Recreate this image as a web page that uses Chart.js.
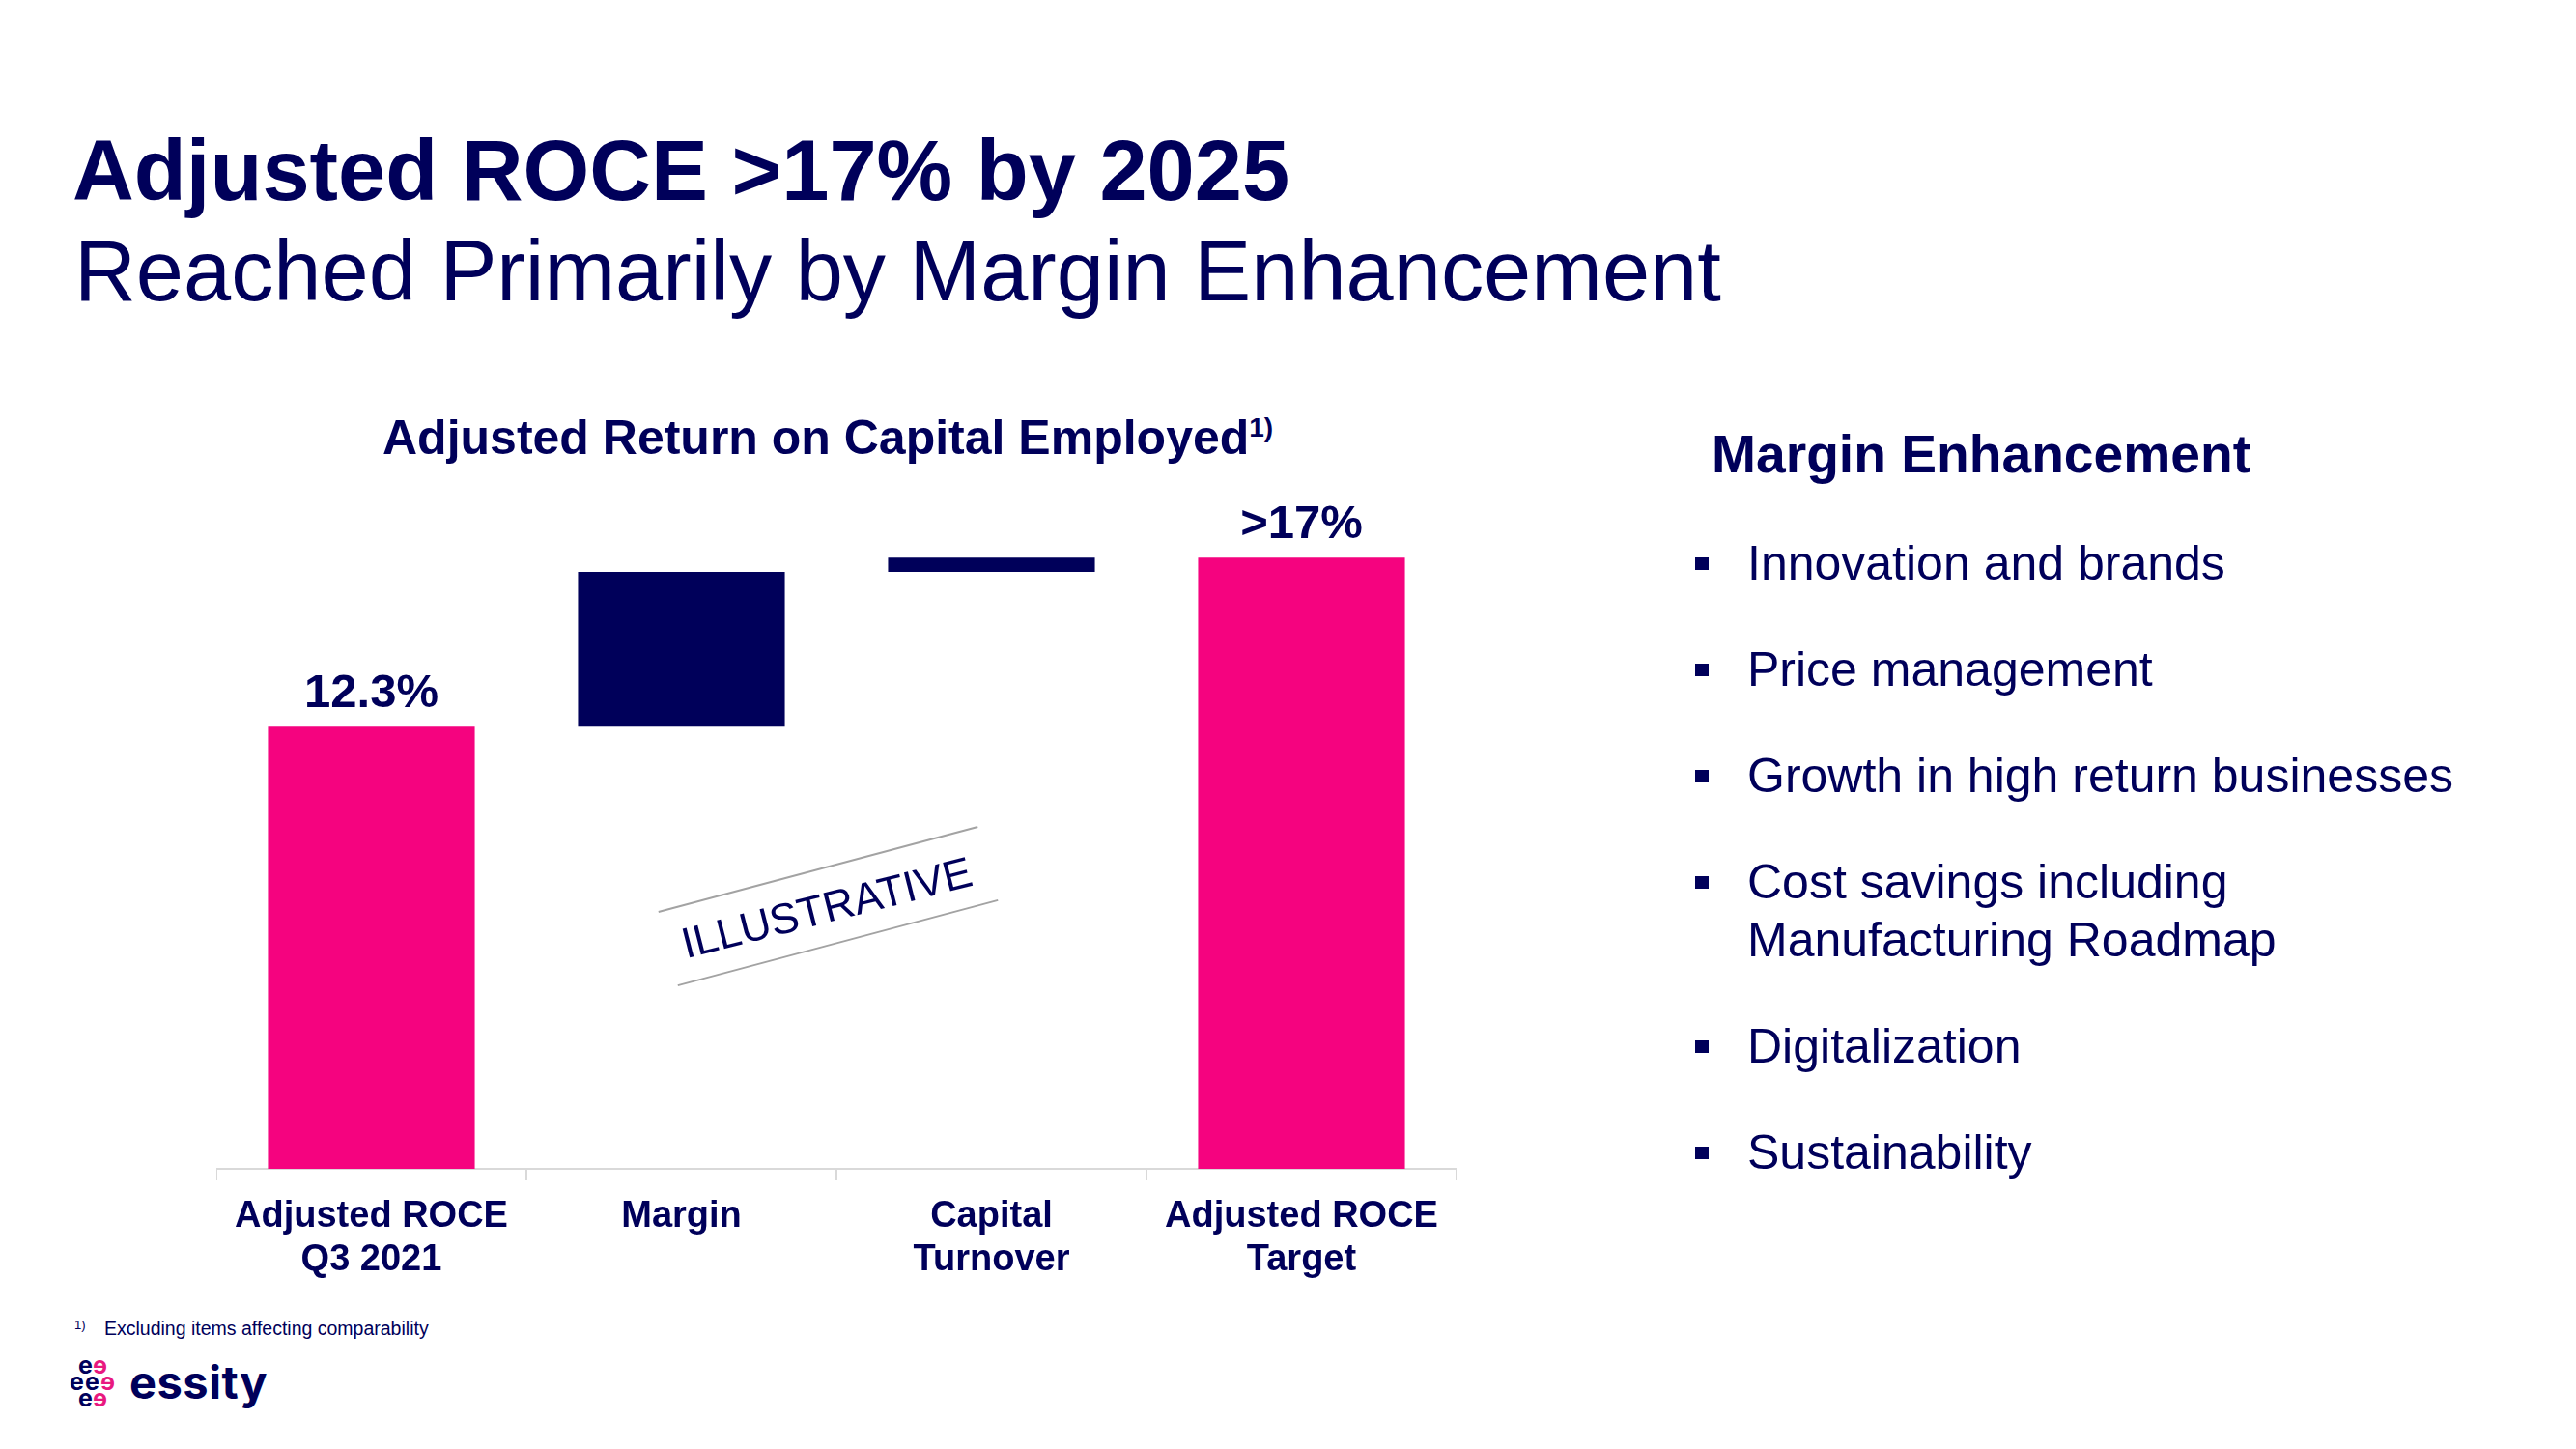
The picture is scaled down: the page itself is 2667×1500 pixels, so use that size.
<!DOCTYPE html>
<html>
<head>
<meta charset="utf-8">
<script src="https://cdn.jsdelivr.net/npm/chart.js@4.4.1/dist/chart.umd.min.js"></script>
<style>
  html, body { margin: 0; padding: 0; background: #ffffff; }
  body { width: 2667px; height: 1500px; position: relative; overflow: hidden;
         font-family: "Liberation Sans", Arial, Helvetica, sans-serif; color: #00005a; }
  .t { position: absolute; white-space: nowrap; line-height: 1; }
  .b { font-weight: bold; }
  .sq { position: absolute; width: 14px; height: 13px; background: #00005a; }
  .ln { position: absolute; height: 0; border-top: 2px solid #a3a3a3; transform-origin: 50% 50%; }
  .lg { position: absolute; font-family: Inter, "Noto Sans", sans-serif; font-weight: 700; font-size: 25px; line-height: 1; }
  #chartBox { position: absolute; left: 224px; top: 500px; width: 1284px; height: 830px; }
</style>
</head>
<body>
  <!-- Page titles -->
  <div class="t b" style="left:75px; top:133px; font-size:88.4px;">Adjusted ROCE &gt;17% by 2025</div>
  <div class="t" style="left:77px; top:237px; font-size:88.4px;">Reached Primarily by Margin Enhancement</div>

  <!-- Chart title -->
  <div class="t b" style="left:396px; top:428px; font-size:50px;">Adjusted Return on Capital Employed<span style="font-size:28px; position:relative; top:-18px;">1)</span></div>

  <!-- Chart -->
  <div id="chartBox"><canvas id="c" width="1284" height="830"></canvas></div>

  <!-- ILLUSTRATIVE stamp -->
  <div class="ln" style="left:676px; top:899px; width:342px; transform:rotate(-14.9deg);"></div>
  <div class="ln" style="left:696px; top:975px; width:343px; transform:rotate(-14.9deg);"></div>
  <div class="t" style="left:856px; top:940px; font-size:44.5px; transform:translate(-50%,-50%) rotate(-14.3deg);">ILLUSTRATIVE</div>

  <!-- Right panel -->
  <div class="t b" style="left:1772px; top:443px; font-size:55.2px;">Margin Enhancement</div>

  <div class="sq" style="left:1755px; top:577px;"></div>
  <div class="t" style="left:1809px; top:558px; font-size:50px;">Innovation and brands</div>
  <div class="sq" style="left:1755px; top:687px;"></div>
  <div class="t" style="left:1809px; top:668px; font-size:50px;">Price management</div>
  <div class="sq" style="left:1755px; top:797px;"></div>
  <div class="t" style="left:1809px; top:778px; font-size:50px;">Growth in high return businesses</div>
  <div class="sq" style="left:1755px; top:907px;"></div>
  <div class="t" style="left:1809px; top:888px; font-size:50px;">Cost savings including</div>
  <div class="t" style="left:1809px; top:948px; font-size:50px;">Manufacturing Roadmap</div>
  <div class="sq" style="left:1755px; top:1077px;"></div>
  <div class="t" style="left:1809px; top:1058px; font-size:50px;">Digitalization</div>
  <div class="sq" style="left:1755px; top:1187px;"></div>
  <div class="t" style="left:1809px; top:1168px; font-size:50px;">Sustainability</div>

  <!-- Footnote -->
  <div class="t" style="left:77px; top:1365px; font-size:13px;">1)</div>
  <div class="t" style="left:108px; top:1366px; font-size:19.5px;">Excluding items affecting comparability</div>

  <!-- Logo -->
  <div class="lg" style="left:81px; top:1401px; color:#00005a;">e</div>
  <div class="lg" style="left:96px; top:1401px; color:#e8197f; transform:scaleX(-1);">e</div>
  <div class="lg" style="left:72px; top:1418px; color:#00005a;">e</div>
  <div class="lg" style="left:88px; top:1418px; color:#00005a;">e</div>
  <div class="lg" style="left:104px; top:1418px; color:#e8197f; transform:scaleX(-1);">e</div>
  <div class="lg" style="left:81px; top:1435px; color:#00005a;">e</div>
  <div class="lg" style="left:96px; top:1435px; color:#e8197f; transform:scaleX(-1);">e</div>
  <div class="t" style="left:134px; top:1407px; font-family:Inter, 'Noto Sans', sans-serif; font-weight:700; font-size:47px; letter-spacing:0.5px;">essity</div>

<script>
// ---- Data ----
const categories = [["Adjusted ROCE", "Q3 2021"], "Margin", ["Capital", "Turnover"], ["Adjusted ROCE", "Target"]];
const barStart   = [0, 12.3, 16.6, 0];
const barEnd     = [12.3, 16.6, 17.0, 17.0];
const valueLabels = ["12.3%", "", "", ">17%"];
const barKinds   = ["total", "step", "step", "total"];

// ---- Styles ----
const NAVY = "#00005a";
const PINK = "#f5037f";
const FONT = "'Liberation Sans', Arial, Helvetica, sans-serif";

const ranges = barStart.map((s, i) => [s, barEnd[i]]);
const colors = barKinds.map(k => k === "total" ? PINK : NAVY);

const valueLabelPlugin = {
  id: "valueLabels",
  afterDatasetsDraw(chart) {
    const ctx = chart.ctx;
    const meta = chart.getDatasetMeta(0);
    ctx.save();
    ctx.fillStyle = NAVY;
    ctx.textAlign = "center";
    ctx.textBaseline = "alphabetic";
    ctx.font = "bold 49px " + FONT;
    meta.data.forEach((bar, i) => {
      const txt = valueLabels[i];
      if (!txt) return;
      ctx.fillText(txt, bar.x, bar.y - 20);
    });
    ctx.restore();
  }
};

new Chart(document.getElementById("c"), {
  type: "bar",
  data: {
    labels: categories,
    datasets: [{
      data: ranges,
      backgroundColor: colors,
      borderWidth: 0,
      borderSkipped: false,
      categoryPercentage: 1.0,
      barPercentage: 0.667
    }]
  },
  options: {
    responsive: false,
    animation: false,
    layout: { padding: { top: 40, left: 0, right: 0, bottom: 0 } },
    plugins: { legend: { display: false }, tooltip: { enabled: false }, title: { display: false } },
    scales: {
      x: {
        offset: true,
        grid: { display: true, drawOnChartArea: false, drawTicks: true, tickLength: 12,
                color: "#d9d9d9", lineWidth: 2, offset: true },
        border: { display: true, color: "#d9d9d9", width: 2 },
        ticks: { color: NAVY, padding: 15, maxRotation: 0, autoSkip: false,
                 font: { family: FONT, size: 38, weight: "bold", lineHeight: 1.184 } },
        afterFit(scale) { scale.height = 120; }
      },
      y: { display: false, min: 0, max: 18 }
    }
  },
  plugins: [valueLabelPlugin]
});
</script>
</body>
</html>
